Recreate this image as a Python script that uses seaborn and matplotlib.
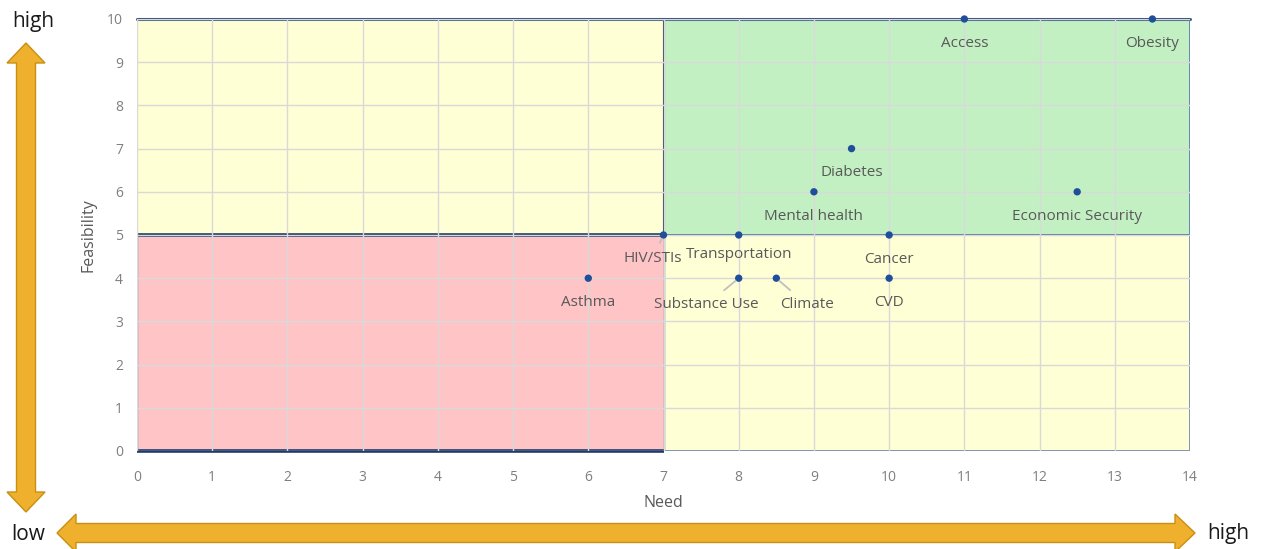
import seaborn as sns
import matplotlib.pyplot as plt
import pandas as pd
from matplotlib.patches import Rectangle, Polygon

# issues placed on need / feasibility grid
issues = ["Access", "Obesity", "Diabetes", "Mental health", "Economic Security",
          "HIV/STIs", "Transportation", "Cancer", "Asthma", "Substance Use",
          "Climate", "CVD"]
need = [11, 13.5, 9.5, 9, 12.5, 7, 8, 10, 6, 8, 8.5, 10]
feasibility = [10, 10, 7, 6, 6, 5, 5, 5, 4, 4, 4, 4]
x_ticks = list(range(0, 15))
y_ticks = list(range(0, 11))

# label offsets in points (dx, dy), leader line yes/no
offsets = {
    "HIV/STIs": (-8, -17, True),
    "Transportation": (0, -14, False),
    "Substance Use": (-23, -19, True),
    "Climate": (22, -19, True),
}

df = pd.DataFrame({"issue": issues, "need": need, "feasibility": feasibility})

sns.set_style("white")
plt.rcParams['font.family'] = ['Open Sans', 'DejaVu Sans']

W, H = 1261, 549
fig = plt.figure(figsize=(W / 100, H / 100), dpi=100)
ax = fig.add_axes([137 / W, 1 - 451 / H, (1190 - 137) / W, (451 - 19) / H])

# quadrant backgrounds
ax.add_patch(Rectangle((0, 0), 14, 10, facecolor="#FFFFD6", edgecolor="#4F6FA0", lw=1.2, zorder=0))
ax.add_patch(Rectangle((7, 5), 7, 5, facecolor="#C2F0C2", edgecolor="#3A5F9E", lw=1.2, zorder=0.5))
ax.add_patch(Rectangle((0, 0), 7, 5, facecolor="#FFC4C6", edgecolor="#4F6FA0", lw=1.0, zorder=0.5))
ax.plot([0, 7], [5, 5], color="#1F3A6A", lw=2.6, zorder=2, solid_capstyle="butt", clip_on=False)
ax.plot([0, 7], [0, 0], color="#1F3A6A", lw=2.6, zorder=2, solid_capstyle="butt", clip_on=False)
ax.plot([7, 7], [5, 10], color="#2A3F66", lw=1.5, zorder=2, clip_on=False)
ax.plot([0, 14], [10, 10], color="#3F5A85", lw=2.2, zorder=2, clip_on=False)

ax.set_xlim(0, 14)
ax.set_ylim(0, 10)
ax.set_xticks(x_ticks)
ax.set_yticks(y_ticks)
ax.grid(True, color="#D9D9D9", lw=1)
ax.set_axisbelow(False)
for gl in ax.get_xgridlines() + ax.get_ygridlines():
    gl.set_zorder(1)
for s in ax.spines.values():
    s.set_visible(False)
ax.tick_params(axis="x", length=0, pad=14, labelsize=10, labelcolor="#7F7F7F")
ax.tick_params(axis="y", length=0, pad=10, labelsize=10, labelcolor="#7F7F7F")

sns.scatterplot(data=df, x="need", y="feasibility", ax=ax, color="#1F4E9A",
                s=28, edgecolor="none", zorder=5, clip_on=False)
ax.set_xlabel("Need", fontsize=11.5, color="#595959", labelpad=7)
ax.set_ylabel("Feasibility", fontsize=11.5, color="#595959", labelpad=8)

for name, x, y in zip(issues, need, feasibility):
    dx, dy, leader = offsets.get(name, (0, -17.5, False))
    props = None
    if leader:
        props = dict(arrowstyle="-", color="#BFBFBF", lw=1.3, shrinkA=4, shrinkB=3)
    ax.annotate(name, (x, y), xytext=(dx, dy), textcoords="offset points",
                ha="center", va="center", fontsize=11, color="#595959",
                arrowprops=props, zorder=6)

# orange scale arrows drawn in figure pixels
def px(pts):
    return [(a / W, 1 - b / H) for a, b in pts]

arrow_kw = dict(facecolor="#EFB02E", edgecolor="#C98F10", lw=1, transform=fig.transFigure)
cx = 26
vert = [(cx, 43), (cx + 19, 63), (cx + 9.5, 63), (cx + 9.5, 492), (cx + 19, 492),
        (cx, 512), (cx - 19, 492), (cx - 9.5, 492), (cx - 9.5, 63), (cx - 19, 63)]
fig.add_artist(Polygon(px(vert), **arrow_kw))
cy = 533
horiz = [(57, cy), (76, cy - 19), (76, cy - 9.5), (1175, cy - 9.5), (1175, cy - 19),
         (1195, cy), (1175, cy + 19), (1175, cy + 9.5), (76, cy + 9.5), (76, cy + 19)]
fig.add_artist(Polygon(px(horiz), **arrow_kw))

fig.text(33 / W, 1 - 21 / H, "high", ha="center", va="center", fontsize=15, color="#1A1A1A")
fig.text(28 / W, 1 - 534 / H, "low", ha="center", va="center", fontsize=15, color="#1A1A1A")
fig.text(1228 / W, 1 - 534 / H, "high", ha="center", va="center", fontsize=15, color="#1A1A1A")

fig.savefig("out.png", dpi=100)
